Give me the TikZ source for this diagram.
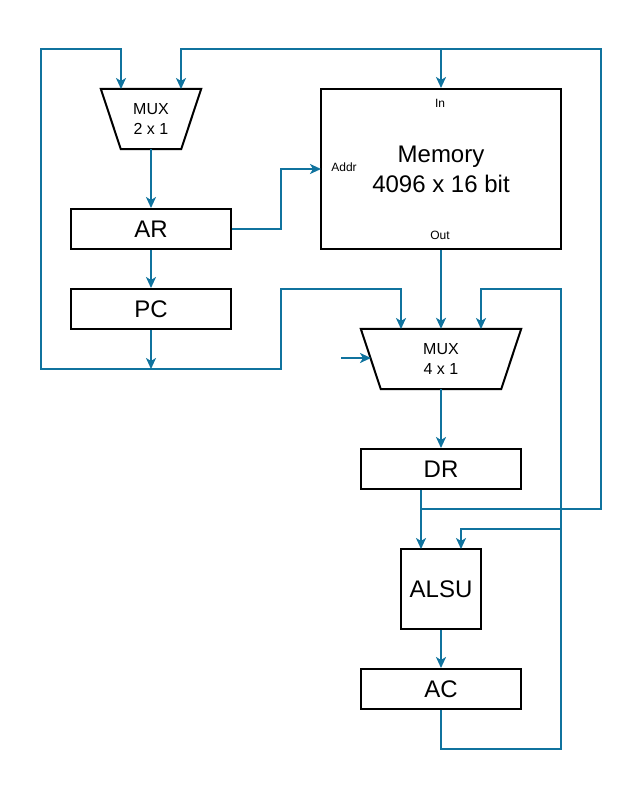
\documentclass[tikz,border=0pt]{standalone}
\usepackage{fontspec}
\setmainfont{Liberation Sans}
\usetikzlibrary{arrows.meta}
\definecolor{wire}{HTML}{10739E}
\tikzset{
  blk/.style={draw=black, line width=2pt, fill=white, inner sep=0pt, font=\fontsize{24}{28}\selectfont},
  muxbox/.style={inner sep=0pt, minimum width=100pt, minimum height=60pt, align=center, font=\fontsize{16}{20}\selectfont},
  conn/.style={draw=wire, line width=2pt},
  arr/.style={-{Stealth[length=11pt,width=10pt,inset=3pt]}},
  barr/.style={{Stealth[length=11pt,width=10pt,inset=3pt]}-{Stealth[length=11pt,width=10pt,inset=3pt]}},
  portlbl/.style={font=\fontsize{12}{14}\selectfont, inner sep=0pt}
}
\begin{document}
\begin{tikzpicture}[x=1pt,y=-1pt]
\useasboundingbox (0,0) rectangle (644,792);
% MUX 2x1
\node[muxbox] (mux2) at (151,119) {MUX\\2 x 1};
\draw[line width=2pt] (mux2.north west) -- (mux2.north east) -- ([xshift=-20pt]mux2.south east) -- ([xshift=20pt]mux2.south west) -- cycle;
% MUX 4x1
\node[muxbox, minimum width=160pt] (mux4) at (441,359) {MUX\\4 x 1};
\draw[line width=2pt] (mux4.north west) -- (mux4.north east) -- ([xshift=-20pt]mux4.south east) -- ([xshift=20pt]mux4.south west) -- cycle;
% Memory
\node[blk, minimum width=240pt, minimum height=160pt, align=center, font=\fontsize{24}{30}\selectfont] (mem) at (441,169) {Memory\\4096 x 16 bit};
\node[portlbl] (lin) at (440,103) {In};
\node[portlbl] (laddr) at (344,167) {Addr};
\node[portlbl] (lout) at (440,235) {Out};
% Registers
\node[blk, minimum width=160pt, minimum height=40pt] (ar) at (151,229) {AR};
\node[blk, minimum width=160pt, minimum height=40pt] (pc) at (151,309) {PC};
\node[blk, minimum width=160pt, minimum height=40pt] (dr) at (441,469) {DR};
\node[blk, minimum width=80pt, minimum height=80pt] (alsu) at (441,589) {ALSU};
\node[blk, minimum width=160pt, minimum height=40pt] (ac) at (441,689) {AC};
% coordinates
\coordinate (m2a) at (121,89);
\coordinate (m2b) at (181,89);
\coordinate (m4a) at (401,329);
\coordinate (m4c) at (481,329);
\coordinate (selin) at (341,358);
\coordinate (selend) at (371,358);
\coordinate (alsua) at (421,549);
\coordinate (alsub) at (461,549);
% connectors
\draw[conn,barr] (m2a) -- (121,49) -- (41,49) -- (41,369) -- (281,369) -- (281,289) -- (401,289) -- (m4a);
\draw[conn,arr] (pc.south) -- (151,369);
\draw[conn,arr] (421,509) -- (601,509) -- (601,49) -- (181,49) -- (m2b);
\draw[conn,arr] (441,49) -- (mem.north);
\draw[conn,arr] (dr.south -| alsua) -- (alsua);
\draw[conn,arr] (mux2.south) -- (ar.north);
\draw[conn,arr] (ar.south) -- (pc.north);
\draw[conn,arr] (ar.east) -- (281,229) -- (281,169) -- (321,169);
\draw[conn,arr] (mem.south) -- (mux4.north);
\draw[conn,arr] (ac.south) -- (441,749) -- (561,749) -- (561,289) -- (481,289) -- (m4c);
\draw[conn,arr] (561,529) -- (461,529) -- (alsub);
\draw[conn,arr] (selin) -- (selend);
\draw[conn,arr] (mux4.south) -- (dr.north);
\draw[conn,arr] (alsu.south) -- (ac.north);
\end{tikzpicture}
\end{document}
